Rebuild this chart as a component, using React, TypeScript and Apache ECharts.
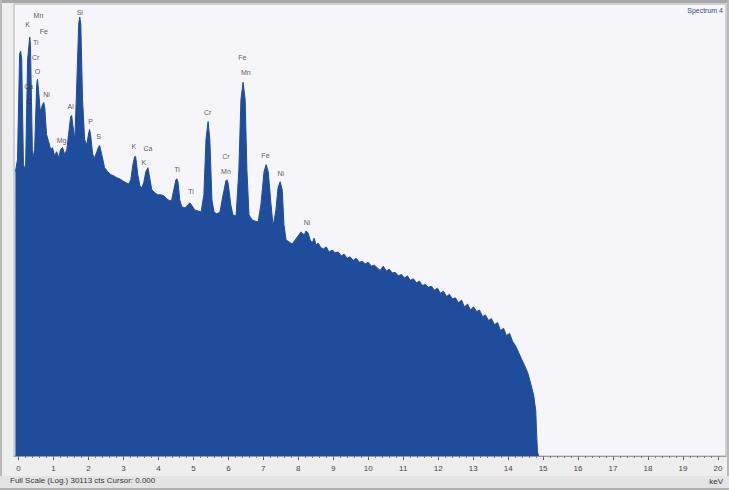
import React, { useEffect, useRef } from "react";
import * as echarts from "echarts";

// Spectrum envelope (energy in keV, counts on a log scale)
const energies = [
  -0.09, -0.03, 0.03, 0.06, 0.09, 0.14, 0.2, 0.26, 0.32, 0.34,
  0.4, 0.46, 0.52, 0.54, 0.57, 0.62, 0.69, 0.72, 0.75, 0.8,
  0.86, 0.92, 0.97, 1.03, 1.09, 1.15, 1.2, 1.26, 1.32, 1.38,
  1.43, 1.49, 1.52, 1.55, 1.61, 1.66, 1.72, 1.75, 1.78, 1.83,
  1.89, 1.95, 2.01, 2.03, 2.06, 2.12, 2.18, 2.24, 2.29, 2.32,
  2.38, 2.46, 2.55, 2.64, 2.72, 2.81, 2.89, 2.98, 3.07, 3.15,
  3.21, 3.27, 3.32, 3.35, 3.41, 3.47, 3.52, 3.58, 3.64, 3.7,
  3.75, 3.81, 3.9, 3.98, 4.07, 4.16, 4.24, 4.33, 4.38, 4.44,
  4.5, 4.53, 4.56, 4.61, 4.67, 4.76, 4.84, 4.9, 4.96, 5.04,
  5.13, 5.22, 5.3, 5.36, 5.42, 5.47, 5.53, 5.59, 5.67, 5.76,
  5.85, 5.93, 5.96, 5.99, 6.07, 6.13, 6.22, 6.3, 6.36, 6.42,
  6.48, 6.53, 6.59, 6.68, 6.76, 6.85, 6.93, 7.02, 7.08, 7.14,
  7.22, 7.28, 7.36, 7.42, 7.48, 7.54, 7.59, 7.65, 7.74, 7.82,
  7.91, 7.99, 8.08, 8.17, 8.22, 8.28, 8.34, 8.4, 8.45, 8.51,
  8.57, 8.63, 8.71, 8.8, 8.88, 8.97, 9.05, 9.14, 9.23, 9.31,
  9.4, 9.48, 9.57, 9.66, 9.74, 9.83, 9.91, 10.0, 10.09, 10.17,
  10.26, 10.34, 10.43, 10.52, 10.6, 10.69, 10.77, 10.86, 10.95, 11.03,
  11.12, 11.2, 11.29, 11.38, 11.46, 11.55, 11.63, 11.72, 11.81, 11.89,
  11.98, 12.06, 12.15, 12.24, 12.32, 12.41, 12.49, 12.58, 12.67, 12.75,
  12.84, 12.92, 13.01, 13.1, 13.18, 13.27, 13.35, 13.44, 13.52, 13.61,
  13.7, 13.78, 13.87, 13.95, 14.04, 14.13, 14.21, 14.3, 14.38, 14.47,
  14.56, 14.64, 14.73, 14.79, 14.81, 14.84, 14.87,
];
const counts = [
  656, 863, 9580, 10260, 8540, 770, 687, 8540, 14130, 12050,
  863, 1086, 4815, 5400, 4295, 2594, 3047, 3190, 2843, 1531,
  1304, 1086, 1137, 946, 1037, 903, 1086, 1137, 968, 1086,
  1531, 2312, 2366, 1926, 1365, 4295, 19050, 22370, 19050, 3415,
  1365, 1217, 1603, 1718, 1531, 968, 903, 1037, 1164, 1189,
  968, 719, 656, 612, 598, 571, 558, 533, 509, 498,
  546, 770, 925, 925, 612, 476, 454, 509, 656, 719,
  571, 434, 405, 387, 387, 378, 353, 337, 345, 434,
  546, 558, 521, 345, 294, 287, 308, 322, 301, 274,
  268, 262, 387, 1365, 2061, 1365, 345, 262, 250, 262,
  387, 533, 546, 509, 308, 245, 239, 687, 3415, 5042,
  3415, 687, 245, 218, 213, 208, 308, 656, 770, 656,
  308, 190, 274, 454, 521, 434, 195, 138, 132, 126,
  138, 151, 166, 155, 170, 162, 138, 129, 144, 123,
  129, 118, 112, 118, 105, 110, 103, 105, 96, 100,
  91, 94, 87, 91, 83, 85, 80, 83, 76, 78,
  73, 69, 76, 68, 71, 65, 66, 61, 63, 58,
  61, 55, 57, 52, 54, 49, 50, 47, 48, 44,
  46, 41, 43, 38, 40, 36, 37, 33, 35, 30,
  32, 28, 30, 27, 28, 24, 25, 22, 23, 20,
  21, 17.5, 18.4, 15.6, 16.4, 13.6, 12.4, 10.6, 9.2, 7.9,
  6.7, 5.3, 4.0, 2.8, 1.8, 1.1, 1,
];

// Element line labels (energy in keV, height in counts)
const labelNames = [
  "Mn", "K", "Fe", "Ti", "Cr", "O", "Ca", "Ni", "C",
  "Si", "Al", "Mg", "P", "S",
  "K", "Ca", "K", "Ti", "Ti", "Cr", "Cr", "Mn", "Fe", "Mn", "Fe", "Ni", "Ni",
];
const labelEnergies = [
  0.57, 0.26, 0.72, 0.49, 0.49, 0.54, 0.29, 0.8, 0.29,
  1.75, 1.49, 1.23, 2.06, 2.29,
  3.3, 3.7, 3.58, 4.53, 4.93, 5.41, 5.93, 5.93, 6.4, 6.5, 7.06, 7.5, 8.25,
];
const labelCounts = [
  23400, 19050, 16230, 12610, 8940, 6490, 4600, 3830, 3260,
  25060, 2910, 1334, 2061, 1462,
  1164, 1111, 805, 687, 415, 2535, 925, 656, 8940, 6340, 946, 627, 204,
];

const tickValues = [0, 1, 2, 3, 4, 5, 6, 7, 8, 9, 10, 11, 12, 13, 14, 15, 16, 17, 18, 19, 20];
const fullScaleCounts = 30113;
const footerText = "Full Scale (Log.) 30113 cts Cursor: 0.000";
const spectrumName = "Spectrum 4";
const unitText = "keV";

const FONT = "Liberation Sans";
const BLUE = "#1f4d9b";

export default function App() {
  const ref = useRef<HTMLDivElement>(null);
  useEffect(() => {
    const chart = echarts.init(ref.current as HTMLDivElement, null, { renderer: "svg" });
    const minorTicks: number[] = [];
    for (let i = 0; i <= 100; i++) minorTicks.push(+(i * 0.2).toFixed(1));
    chart.setOption({
      animation: false,
      backgroundColor: "#eeeeee",
      textStyle: { fontFamily: FONT },
      grid: {
        left: 14,
        right: 3,
        top: 4,
        bottom: 34,
        show: true,
        backgroundColor: "#f5f5fa",
        borderColor: "#b0b0b0",
        borderWidth: 1,
      },
      xAxis: [
        {
          type: "value",
          min: -0.13,
          max: 20.23,
          axisLine: { show: true, onZero: false, lineStyle: { color: "#9a9a9a", width: 1 } },
          axisTick: { show: true, customValues: tickValues, length: 4, lineStyle: { color: "#555" } },
          axisLabel: { customValues: tickValues, fontSize: 8, color: "#444", margin: 8, fontFamily: FONT },
          splitLine: { show: false },
        },
        {
          type: "value",
          min: -0.13,
          max: 20.23,
          position: "bottom",
          axisLine: { show: false },
          axisTick: { show: true, customValues: minorTicks, length: 2, lineStyle: { color: "#777" } },
          axisLabel: { show: false },
          splitLine: { show: false },
        },
      ],
      yAxis: { type: "log", logBase: 10, min: 1, max: fullScaleCounts, show: false },
      graphic: [
        { type: "rect", shape: { x: 0, y: 0, width: 729, height: 3 }, style: { fill: "#a8a8a8" } },
        { type: "rect", shape: { x: 0, y: 0, width: 2, height: 490 }, style: { fill: "#b8b8b8" } },
        { type: "rect", shape: { x: 727, y: 0, width: 2, height: 490 }, style: { fill: "#b8b8b8" } },
        { type: "rect", shape: { x: 0, y: 476, width: 729, height: 14 }, style: { fill: "#e4e4e4" } },
        { type: "rect", shape: { x: 0, y: 488, width: 729, height: 2 }, style: { fill: "#b0b0b0" } },
        {
          type: "text",
          left: 10,
          top: 476,
          style: { text: footerText, fontSize: 8, fill: "#333", fontFamily: FONT },
        },
        {
          type: "text",
          right: 6,
          top: 477,
          style: { text: unitText, fontSize: 8, fill: "#333", fontFamily: FONT },
        },
        {
          type: "text",
          right: 6,
          top: 7,
          style: { text: spectrumName, fontSize: 7, fill: "#3a4a80", fontFamily: FONT },
        },
      ],
      series: [
        {
          type: "line",
          data: energies.map((e, i) => [e, counts[i]]),
          showSymbol: false,
          symbol: "none",
          lineStyle: { color: BLUE, width: 1 },
          areaStyle: { color: BLUE, opacity: 1, origin: "start" },
          silent: true,
          z: 2,
        },
        {
          type: "scatter",
          data: labelEnergies.map((e, i) => ({ value: [e, labelCounts[i]], name: labelNames[i] })),
          symbolSize: 1,
          itemStyle: { color: "rgba(0,0,0,0)" },
          label: {
            show: true,
            position: "inside",
            formatter: "{b}",
            fontSize: 7,
            color: "#303030",
            textBorderWidth: 0,
            textBorderColor: "transparent",
            fontFamily: FONT,
          },
          silent: true,
          z: 5,
        },
      ],
    });
    return () => chart.dispose();
  }, []);
  return (
    <div style={{ position: "fixed", left: 0, top: 0, width: 729, height: 490 }}>
      <div ref={ref} style={{ width: 729, height: 490 }} />
    </div>
  );
}
